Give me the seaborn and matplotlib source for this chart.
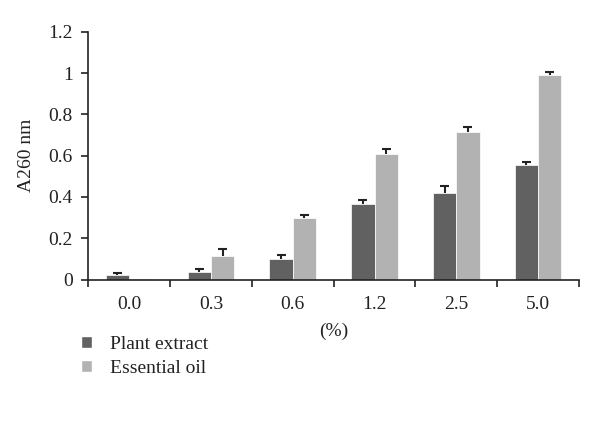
import numpy as np
import pandas as pd
import seaborn as sns
import matplotlib.pyplot as plt
from matplotlib.patches import Patch

# concentrations and A260 readings
doses = ["0.0", "0.3", "0.6", "1.2", "2.5", "5.0"]
plant = [0.023, 0.037, 0.097, 0.367, 0.42, 0.557]
plant_err = [0.01, 0.015, 0.023, 0.016, 0.032, 0.013]
oil = [0.004, 0.115, 0.297, 0.607, 0.714, 0.993]
oil_err = [0.0, 0.032, 0.016, 0.025, 0.027, 0.01]
series = ["Plant extract", "Essential oil"]
colors = ["#616161", "#b2b2b2"]

df = pd.DataFrame({
    "dose": doses * 2,
    "A260": plant + oil,
    "err": plant_err + oil_err,
    "series": [series[0]] * 6 + [series[1]] * 6,
})

sns.set_style("white")
plt.rcParams["font.family"] = ["Liberation Serif", "DejaVu Serif"]

fig = plt.figure(figsize=(6, 4.3), dpi=100)
ax = fig.add_axes([0.147, 0.35, 0.818, 0.576])

sns.barplot(data=df, x="dose", y="A260", hue="series", palette=colors,
            width=0.57, errorbar=None, ax=ax, legend=False,
            edgecolor="white", linewidth=0.5)

# upper error bars only (stem + top cap)
for patch_group, vals, errs in zip([ax.patches[:6], ax.patches[6:12]], [plant, oil], [plant_err, oil_err]):
    for p, v, e in zip(patch_group, vals, errs):
        if e > 0:
            cx = p.get_x() + p.get_width() / 2
            ax.vlines(cx, v, v + e, color="#222222", linewidth=1.5, zorder=3)
            ax.hlines(v + e, cx - 0.055, cx + 0.055, color="#222222", linewidth=1.5, zorder=3)

ax.set_ylim(0, 1.2)
ax.set_xlim(-0.5, 5.5)
ax.set_yticks(np.arange(0, 1.21, 0.2))
ax.set_yticklabels(["0", "0.2", "0.4", "0.6", "0.8", "1", "1.2"])
ax.set_xticks(np.arange(6))
ax.set_xticks(np.arange(-0.5, 6, 1), minor=True)
ax.tick_params(axis="x", which="major", length=0, pad=12, labelsize=14, colors="#222222")
ax.tick_params(axis="x", which="minor", length=5, width=1.2, direction="out", color="#222222")
ax.tick_params(axis="y", length=5, width=1.2, direction="out", labelsize=14, colors="#222222", pad=6)
ax.tick_params(axis="both", bottom=True, left=True, which="both")

for s in ["top", "right"]:
    ax.spines[s].set_visible(False)
for s in ["left", "bottom"]:
    ax.spines[s].set_color("#222222")
    ax.spines[s].set_linewidth(1.2)

ax.set_xlabel("(%)", fontsize=14, color="#222222", labelpad=7)
ax.set_ylabel("A260 nm", fontsize=14, color="#222222", labelpad=10)

handles = [Patch(facecolor=c, label=l) for c, l in zip(colors, series)]
fig.legend(handles=handles, loc="upper left", bbox_to_anchor=(0.105, 0.26),
           frameon=False, fontsize=14, handlelength=0.6, handleheight=0.6,
           handletextpad=0.9, labelspacing=0.35, labelcolor="#222222")

fig.savefig("out.png", dpi=100)
